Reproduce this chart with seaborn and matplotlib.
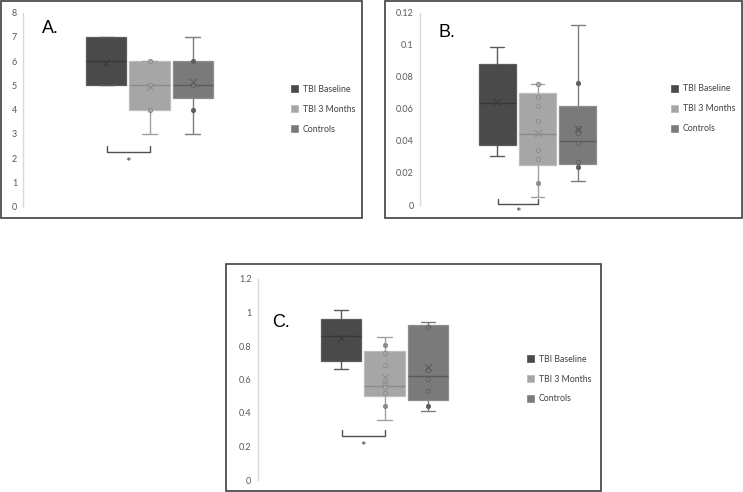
import matplotlib
matplotlib.use("Agg")
import matplotlib.pyplot as plt
from matplotlib.patches import Patch, Rectangle
import seaborn as sns
import pandas as pd

GROUPS = ["TBI Baseline", "TBI 3 Months", "Controls"]

# box summaries: whisker low, Q1, median, Q3, whisker high, mean
A_LOW = [5, 3, 3]
A_Q1 = [5, 4, 4.5]
A_MED = [6, 5, 5]
A_Q3 = [7, 6, 6]
A_HIGH = [7, 6, 7]
A_MEAN = [5.91, 4.95, 5.13]
A_OPEN = {"TBI 3 Months": [6, 5, 4], "Controls": [5]}
A_DOTS = {"Controls": [6, 4]}

B_LOW = [0.0308, 0.0052, 0.015]
B_Q1 = [0.0374, 0.025, 0.0254]
B_MED = [0.0635, 0.0441, 0.040]
B_Q3 = [0.0878, 0.0697, 0.0618]
B_HIGH = [0.0988, 0.0757, 0.1123]
B_MEAN = [0.064, 0.045, 0.0476]
B_OPEN = {"TBI 3 Months": [0.0753, 0.0676, 0.0618, 0.0524, 0.0345, 0.0285],
          "Controls": [0.0482, 0.0451, 0.0389, 0.0268]}
B_DOTS = {"TBI 3 Months": [0.0137], "Controls": [0.0761, 0.0239]}

C_LOW = [0.665, 0.356, 0.414]
C_Q1 = [0.713, 0.50, 0.48]
C_MED = [0.858, 0.563, 0.618]
C_Q3 = [0.96, 0.768, 0.925]
C_HIGH = [1.012, 0.854, 0.943]
C_MEAN = [0.846, 0.613, 0.673]
C_OPEN = {"TBI 3 Months": [0.756, 0.688, 0.579, 0.565, 0.553, 0.521],
          "Controls": [0.915, 0.659, 0.601, 0.531]}
C_DOTS = {"TBI 3 Months": [0.806, 0.444], "Controls": [0.444]}

FILL = ["#4a4a4a", "#a6a6a6", "#7a7a7a"]
EDGE = ["#5c5c5c", "#bcbcbc", "#8e8e8e"]
MEDIAN = ["#383838", "#8a8a8a", "#5a5a5a"]
WHISK = ["#5a5a5a", "#a0a0a0", "#7c7c7c"]
PT_EDGE = ["#3a3a3a", "#8c8c8c", "#5e5e5e"]
MEAN_C = ["#3a3a3a", "#8e8e8e", "#5a5a5a"]

W, H = 743, 492

sns.set_theme(style="white")
plt.rcParams["font.family"] = ["Lato", "DejaVu Sans"]

fig = plt.figure(figsize=(W / 100, H / 100), dpi=100)


def px_axes(left, top, right, bottom):
    return fig.add_axes([left / W, 1 - bottom / H, (right - left) / W, (bottom - top) / H])


def draw_panel(ax, low, q1, med, q3, high, mean, open_pts, dot_pts, ymax, ystep):
    for i, g in enumerate(GROUPS):
        box = pd.DataFrame({"group": g, "value": [low[i], q1[i], med[i], q3[i], high[i]]})
        sns.boxplot(data=box, x="group", y="value", order=GROUPS, width=0.93,
                    color=FILL[i], linecolor=EDGE[i], linewidth=0.9, saturation=1,
                    whis=(0, 100), showfliers=False,
                    medianprops=dict(color=MEDIAN[i], linewidth=1),
                    whiskerprops=dict(color=WHISK[i], linewidth=1),
                    capprops=dict(color=WHISK[i], linewidth=1), ax=ax)
    # narrower caps, like the Excel ones
    for ln in ax.lines:
        xs, ys = ln.get_xdata(), ln.get_ydata()
        if len(xs) == 2 and ys[0] == ys[1] and abs(abs(xs[1] - xs[0]) - 0.465) < 1e-6:
            c = (xs[0] + xs[1]) / 2
            ln.set_xdata([c - 0.17, c + 0.17])

    for i, g in enumerate(GROUPS):
        if g in open_pts:
            vals = open_pts[g]
            sns.stripplot(x=[g] * len(vals), y=vals, order=GROUPS, jitter=False,
                          color=FILL[i], edgecolor=PT_EDGE[i], linewidth=0.6, size=3.2, ax=ax)
        if g in dot_pts:
            vals = dot_pts[g]
            sns.stripplot(x=[g] * len(vals), y=vals, order=GROUPS, jitter=False,
                          color=PT_EDGE[i], edgecolor=PT_EDGE[i], linewidth=0.5, size=3.2, ax=ax)

    sns.stripplot(x=GROUPS, y=mean, order=GROUPS, hue=GROUPS, palette=MEAN_C,
                  marker="x", size=5, linewidth=0.8, jitter=False, legend=False, ax=ax)

    ax.set_xlim(-1.92, 3.92)
    ax.set_ylim(0, ymax)
    n = int(round(ymax / ystep))
    ticks = [round(k * ystep, 4) for k in range(n + 1)]
    ax.set_yticks(ticks)
    ax.set_yticklabels([f"{t:g}" for t in ticks])
    ax.set_xticks([])
    ax.set_xlabel("")
    ax.set_ylabel("")
    ax.tick_params(axis="y", length=0, pad=4.5, labelsize=6.5, labelcolor="#595959")
    for s in ["top", "right", "bottom"]:
        ax.spines[s].set_visible(False)
    ax.spines["left"].set_color("#d9d9d9")
    ax.spines["left"].set_linewidth(1)
    ax.patch.set_alpha(0)
    ax.grid(False)


def bracket(ax, ybot, ytop, ystar):
    ax.plot([0.02, 0.02, 1.0, 1.0], [ytop, ybot, ybot, ytop], color="#505050",
            lw=1, clip_on=False)
    ax.text(0.51, ystar, "*", ha="center", va="center", fontsize=9.5,
            color="#404040", clip_on=False)


def frame(x0, y0, x1, y1):
    fig.add_artist(Rectangle((x0 / W, 1 - y1 / H), (x1 - x0) / W, (y1 - y0) / H,
                             transform=fig.transFigure, fill=False,
                             edgecolor="#3f3f3f", linewidth=1.2))


def legend(x, y):
    handles = [Patch(facecolor=FILL[i], edgecolor=EDGE[i], linewidth=0.6, label=g)
               for i, g in enumerate(GROUPS)]
    fig.legend(handles=handles, loc="center left", bbox_to_anchor=(x / W, 1 - y / H),
               frameon=False, fontsize=6.3, handlelength=0.85, handleheight=0.85,
               handletextpad=0.5, labelspacing=1.25, borderpad=0, borderaxespad=0,
               labelcolor="#404040")


def letter(x, y, s):
    fig.text(x / W, 1 - y / H, s, fontsize=13, va="baseline", ha="left",
             family=["Liberation Sans", "DejaVu Sans"], color="black")


# Panel A
frame(0.8, 0.8, 362, 218)
axA = px_axes(23.3, 12.7, 275.7, 206.7)
draw_panel(axA, A_LOW, A_Q1, A_MED, A_Q3, A_HIGH, A_MEAN, A_OPEN, A_DOTS, 8, 1)
bracket(axA, 2.27, 2.52, 1.80)
legend(291, 109.3)
letter(42, 33.3, "A.")

# Panel B
frame(385, 0.8, 742, 218)
axB = px_axes(420, 12.7, 655, 205)
draw_panel(axB, B_LOW, B_Q1, B_MED, B_Q3, B_HIGH, B_MEAN, B_OPEN, B_DOTS, 0.12, 0.02)
bracket(axB, 0.0004, 0.0035, -0.0048)
legend(671, 108.7)
letter(438.3, 37.3, "B.")

# Panel C
frame(226, 264, 601, 491)
axC = px_axes(257.7, 279, 511.3, 480)
draw_panel(axC, C_LOW, C_Q1, C_MED, C_Q3, C_HIGH, C_MEAN, C_OPEN, C_DOTS, 1.2, 0.2)
bracket(axC, 0.263, 0.30, 0.196)
legend(527, 379)
letter(272.3, 326.7, "C.")

fig.savefig("out.png", dpi=100, facecolor="white")
